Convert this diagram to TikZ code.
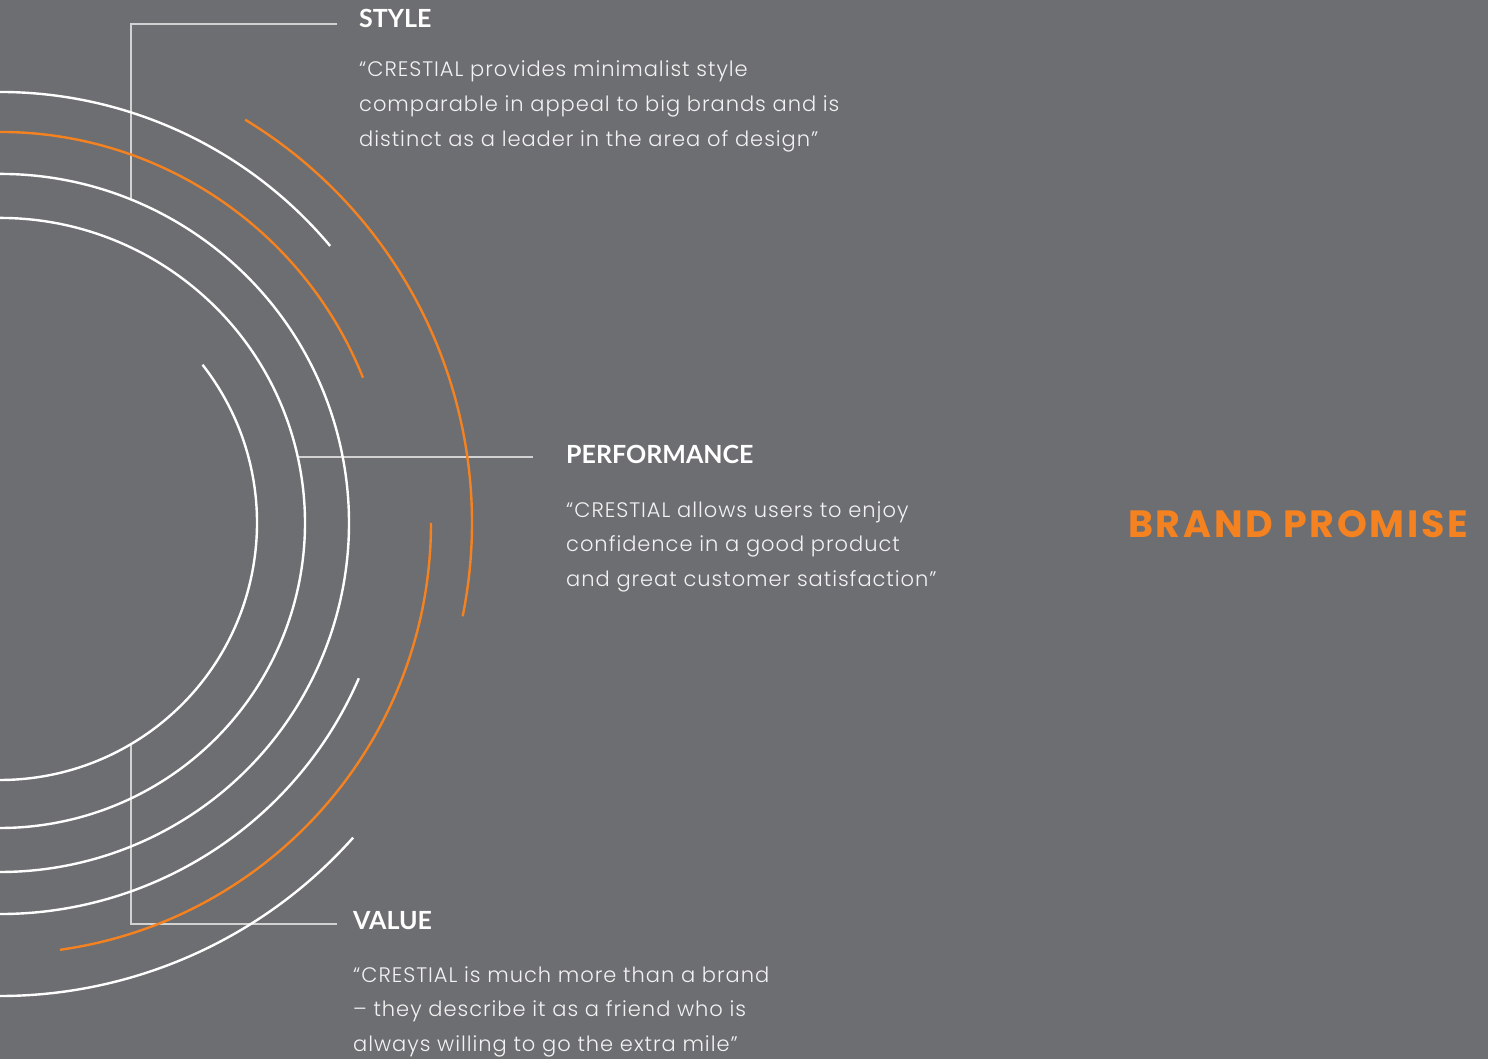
\documentclass[tikz,border=0pt]{standalone}
\usepackage{fontspec}
\setmainfont{Poppins Light}[LetterSpace=4.6]
\newfontfamily\headfont{Lato}
\newfontfamily\brandfont[LetterSpace=7]{Poppins}
\usetikzlibrary{calc}
\definecolor{bg}{HTML}{6D6E71}
\definecolor{org}{HTML}{F58220}
\definecolor{connc}{HTML}{D2D2D2}
\definecolor{txt}{HTML}{F2F2F2}
\tikzset{
  wline/.style={draw=white, line width=2.4pt},
  oline/.style={draw=org, line width=2.4pt},
  connline/.style={draw=connc, line width=1.3pt},
  head/.style={anchor=base west, inner sep=0, text=white, font=\headfont\bfseries\fontsize{25}{30}\selectfont},
  body/.style={anchor=base west, inner sep=0, text=txt, font=\fontsize{21}{25}\selectfont},
  brand/.style={anchor=base west, inner sep=0, text=org, font=\brandfont\bfseries\fontsize{38}{44}\selectfont}
}
\begin{document}
\begin{tikzpicture}[x=1pt,y=1pt]
\fill[bg] (0,0) rectangle (1488,1059);
\useasboundingbox (0,0) rectangle (1488,1059);
\coordinate (C) at (0,536);
\begin{scope}
\clip (0,0) rectangle (1488,1059);
% connectors
\coordinate (sA) at (131,859); \coordinate (sB) at (337,1035);
\coordinate (pA) at (299,602); \coordinate (pB) at (533,602);
\coordinate (vA) at (131,314); \coordinate (vB) at (337,135);
\draw[connline] (sA) |- (sB);
\draw[connline] (pA) -- (pB);
\draw[connline] (vA) |- (vB);
% arcs
\draw[wline] ($(C)+(38:257)$) arc[start angle=38, end angle=-100, radius=257];
\draw[wline] ($(C)+(100:305)$) arc[start angle=100, end angle=-100, radius=305];
\draw[wline] ($(C)+(100:349)$) arc[start angle=100, end angle=-100, radius=349];
\draw[oline] ($(C)+(100:391)$) arc[start angle=100, end angle=21.8, radius=391];
\draw[wline] ($(C)+(-23.4:391)$) arc[start angle=-23.4, end angle=-100, radius=391];
\draw[wline] ($(C)+(100:431)$) arc[start angle=100, end angle=40, radius=431];
\draw[oline] ($(C)+(0:431)$) arc[start angle=0, end angle=-82, radius=431];
\draw[oline] ($(C)+(58.7:472)$) arc[start angle=58.7, end angle=-11.4, radius=472];
\draw[wline] ($(C)+(-41.7:473)$) arc[start angle=-41.7, end angle=-100, radius=473];
\end{scope}
% texts
\node[head] (sh) at (359,1031) {STYLE};
\node[body] (s1) at (359,982) {“CRESTIAL provides minimalist style};
\node[body] (s2) at (359,947) {comparable in appeal to big brands and is};
\node[body] (s3) at (359,912) {distinct as a leader in the area of design”};
\node[head] (ph) at (566,595) {PERFORMANCE};
\node[body] (p1) at (566,541) {“CRESTIAL allows users to enjoy};
\node[body] (p2) at (566,507) {confidence in a good product};
\node[body] (p3) at (566,472) {and great customer satisfaction”};
\node[head] (vh) at (353,129) {VALUE};
\node[body] (v1) at (353,76) {“CRESTIAL is much more than a brand};
\node[body] (v2) at (353,42) {– they describe it as a friend who is};
\node[body] (v3) at (353,7) {always willing to go the extra mile”};
\node[brand] (bp) at (1128,521) {BRAND PROMISE};
\end{tikzpicture}
\end{document}
